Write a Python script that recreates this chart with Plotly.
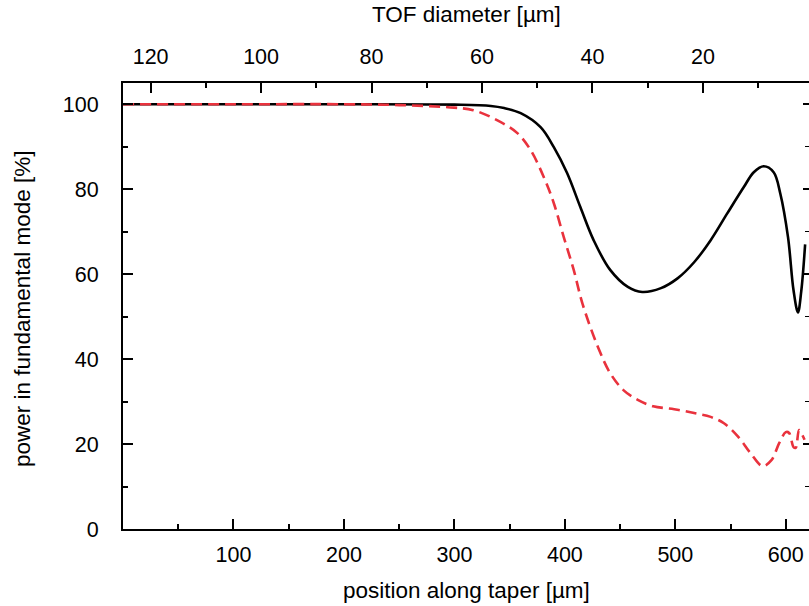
import plotly.graph_objects as go

# ---- data ----
pos_solid = [0, 100, 200, 300, 333, 345, 360, 378, 390, 402, 414, 426, 441, 457, 470,
             487, 502, 517, 532, 547, 562, 571, 580, 589, 595, 602, 607, 611, 614, 617.5]
power_solid = [100, 100, 100, 99.9, 99.6, 99.1, 97.9, 94.6, 89.9, 83.8, 75.8, 68, 61, 57, 55.8,
               56.7, 59, 62.8, 68, 74.3, 80.5, 84, 85.4, 84, 79, 68.7, 56.2, 51, 56, 67]

pos_dashed = [0, 100, 200, 250, 294, 317, 339, 357, 369, 381, 390, 399, 408, 416, 430, 441,
              453, 466, 480, 499, 517, 532, 544, 557, 568, 579, 587, 594, 600, 603, 607, 609,
              612, 615, 617]
power_dashed = [100, 100, 100, 99.8, 99.3, 98.6, 96.2, 93.2, 89.2, 82.8, 76.7, 68.7, 61, 53, 42.8, 36.7,
                32.7, 30.4, 28.9, 28.2, 27.3, 26.4, 24.9, 21.7, 17.9, 14.8, 16.2, 20.2, 22.8, 22.6, 19.3, 19.1,
                23.3, 22.1, 21]

x_ticks = [100, 200, 300, 400, 500, 600]
x_minor = [50, 150, 250, 350, 450, 550]
d_ticks = [120, 100, 80, 60, 40, 20]
d_minor = [110, 90, 70, 50, 30, 10]
y_ticks = [0, 20, 40, 60, 80, 100]
y_minor = [10, 30, 50, 70, 90]

x_title = "position along taper [µm]"
top_title = "TOF diameter [µm]"
y_title = "power in fundamental mode [%]"

X_MAX = 621
D_START = 125  # diameter at position 0; diameter = 125 - pos/5

FONT = "Liberation Sans, Arial, Helvetica, sans-serif"
TICK_SIZE = 21.5
TITLE_SIZE = 22.5

fig = go.Figure()
fig.add_trace(go.Scatter(x=pos_solid, y=power_solid, mode="lines",
                         line=dict(color="black", width=2.6, shape="spline", smoothing=1.0),
                         showlegend=False, hoverinfo="skip"))
fig.add_trace(go.Scatter(x=pos_dashed, y=power_dashed, mode="lines",
                         line=dict(color="#e9323d", width=2.6, dash="11px,6px", shape="spline", smoothing=1.0),
                         showlegend=False, hoverinfo="skip"))
# invisible trace to create the top/right axes
fig.add_trace(go.Scatter(x=[None], y=[None], xaxis="x2", yaxis="y2", showlegend=False,
                         mode="lines", hoverinfo="skip"))

tick_common = dict(ticks="inside", tickcolor="black", tickwidth=2, showgrid=False, zeroline=False,
                   linecolor="black", linewidth=2, tickfont=dict(family=FONT, size=TICK_SIZE, color="black"))
minor_common = dict(ticks="inside", ticklen=5, tickwidth=2, tickcolor="black", showgrid=False)

fig.update_layout(
    width=809, height=606,
    margin=dict(l=123, r=0, t=83, b=77),
    paper_bgcolor="white", plot_bgcolor="white",
    font=dict(family=FONT, size=TICK_SIZE, color="black"),
    xaxis=dict(range=[0, X_MAX], showline=True, ticklen=10, tickmode="array",
               tickvals=x_ticks, ticktext=[str(v) for v in x_ticks],
               minor=dict(tickmode="array", tickvals=x_minor, **minor_common),
               ticklabelstandoff=5, **tick_common),
    xaxis2=dict(range=[D_START, D_START - X_MAX / 5], overlaying="x", side="top", showline=True,
                ticklen=10, tickmode="array", tickvals=d_ticks, ticktext=[str(v) for v in d_ticks],
                minor=dict(tickmode="array", tickvals=d_minor, **minor_common),
                ticklabelstandoff=8, **tick_common),
    yaxis=dict(range=[0, 105], showline=True, ticklen=10, tickmode="array",
               tickvals=y_ticks, ticktext=[str(v) for v in y_ticks],
               minor=dict(tickmode="array", tickvals=y_minor, **minor_common),
               ticklabelstandoff=18, **tick_common),
    yaxis2=dict(range=[0, 105], overlaying="y", side="right", showline=False, ticklen=6,
                tickmode="array", tickvals=y_ticks, showticklabels=False,
                minor=dict(tickmode="array", tickvals=y_minor, ticks="inside", ticklen=4,
                           tickwidth=1, tickcolor="black", showgrid=False),
                ticks="inside", tickcolor="black", tickwidth=2, showgrid=False, zeroline=False),
    annotations=[
        dict(text=x_title, xref="paper", yref="paper", x=0.5, y=(529 - 590) / 446,
             xanchor="center", yanchor="middle", showarrow=False, font=dict(family=FONT, size=TITLE_SIZE)),
        dict(text=top_title, xref="paper", yref="paper", x=0.5, y=(529 - 14) / 446,
             xanchor="center", yanchor="middle", showarrow=False, font=dict(family=FONT, size=TITLE_SIZE)),
        dict(text=y_title, xref="paper", yref="paper", x=(22 - 123) / 686, y=(529 - 309) / 446,
             xanchor="center", yanchor="middle", textangle=-90, showarrow=False,
             font=dict(family=FONT, size=TITLE_SIZE)),
    ],
)

fig.write_html("out.html")
